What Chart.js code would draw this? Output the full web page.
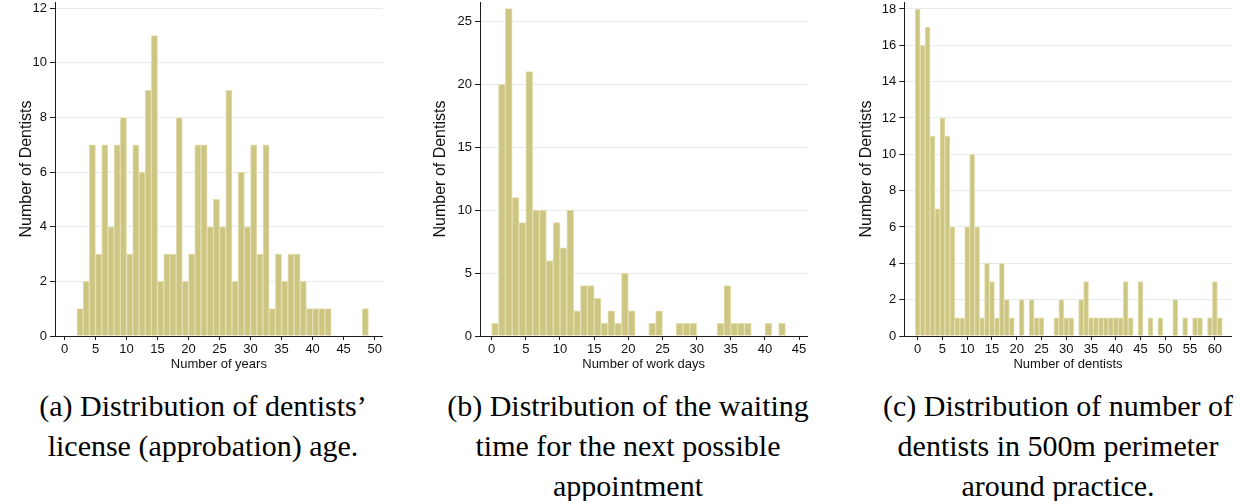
<!DOCTYPE html>
<html>
<head>
<meta charset="utf-8">
<script src="https://cdn.jsdelivr.net/npm/chart.js@4.4.1/dist/chart.umd.min.js"></script>
<style>
  body { margin: 0; background: #fff; width: 1241px; height: 501px; position: relative; overflow: hidden; }
  .box { position: absolute; top: 0; height: 372px; }
  .cap { position: absolute; top: 386px; width: 440px; font: 30px "Liberation Serif", serif; line-height: 40px;
         text-align: center; white-space: nowrap; color: #000; }
</style>
</head>
<body>
<div class="box" style="left:0px;width:390px"><canvas id="chartA"></canvas></div>
<div class="box" style="left:420px;width:395px"><canvas id="chartB"></canvas></div>
<div class="box" style="left:850px;width:391px"><canvas id="chartC"></canvas></div>

<div class="cap" style="left:-17px">(a) Distribution of dentists’<br>license (approbation) age.</div>
<div class="cap" style="left:408px">(b) Distribution of the waiting<br>time for the next possible<br>appointment</div>
<div class="cap" style="left:838px">(c) Distribution of number of<br>dentists in 500m perimeter<br>around practice.</div>

<script>
// (a) license age, bins of 1 year starting at 2
const yearsBinStart = 2;
const yearsCounts = [1, 2, 7, 3, 7, 4, 7, 8, 3, 7, 6, 9, 11, 2, 3, 3, 8, 2, 3, 7, 7, 4, 5, 4,
  9, 2, 6, 4, 7, 3, 7, 1, 3, 2, 3, 3, 2, 1, 1, 1, 1, 0, 0, 0, 0, 0, 1];

// (b) waiting time in work days, bins of 1 day starting at 0
const waitBinStart = 0;
const waitCounts = [1, 20, 26, 11, 9, 21, 10, 10, 6, 9, 7, 10, 2, 4, 4, 3, 1, 2, 1, 5, 2, 0,
  0, 1, 2, 0, 0, 1, 1, 1, 0, 0, 0, 1, 4, 1, 1, 1, 0, 0, 1, 0, 1];

// (c) dentists within 500m, one bar per integer value from 0
const nearbyBinStart = -0.5;
const nearbyCounts = [18, 16, 17, 11, 7, 12, 11, 6, 1, 1, 6, 10, 6, 1, 4, 3, 1, 4, 2, 1,
  0, 2, 0, 2, 1, 1, 0, 0, 1, 2, 1, 1, 0, 2, 3, 1, 1, 1, 1, 1, 1, 1, 3, 1, 0, 3, 0, 1, 0, 1,
  0, 0, 2, 0, 1, 0, 1, 1, 0, 1, 3, 1];

const yTitle = 'Number of Dentists';
const xTitles = ['Number of years', 'Number of work days', 'Number of dentists'];

const GRID = '#e4ecef';
const AXIS = '#1c1c1c';
const BAR = 'rgb(205,197,130)';
const BAR_EDGE = 'rgb(228,223,176)';
const TICK_FONT = { family: 'Liberation Sans, Arial, sans-serif', size: 13 };

function onStep(step) {
  return s => {
    s.ticks = s.ticks.filter(t => t.value >= 0 && Math.abs(t.value / step - Math.round(t.value / step)) < 1e-6);
  };
}

function drawHist(id, binStart, counts, p) {
  const points = counts.map((c, i) => ({ x: binStart + i + 0.5, y: c }));
  new Chart(document.getElementById(id), {
    type: 'bar',
    data: {
      datasets: [{
        data: points,
        backgroundColor: BAR,
        borderColor: BAR_EDGE,
        borderWidth: 1,
        barPercentage: 1,
        categoryPercentage: 1
      }]
    },
    options: {
      responsive: true,
      maintainAspectRatio: false,
      animation: false,
      layout: { padding: { top: 2, right: p.padRight, left: 0, bottom: 0 } },
      plugins: { legend: { display: false }, tooltip: { enabled: false } },
      scales: {
        x: {
          type: 'linear',
          offset: false,
          min: p.xMin,
          max: p.xMax,
          grid: { offset: false, drawOnChartArea: false, tickLength: 4, tickColor: AXIS },
          border: { color: AXIS, width: 1 },
          ticks: { stepSize: p.xStep, includeBounds: false, color: '#111', font: TICK_FONT, padding: 2,
                   maxRotation: 0, autoSkip: false },
          title: { display: true, text: p.xTitle, color: '#111', font: TICK_FONT, padding: 0 },
          afterBuildTicks: onStep(p.xStep),
          afterFit: s => { s.height = 36; s.paddingLeft = 0; s.paddingRight = 0; }
        },
        y: {
          min: 0,
          max: p.yMax,
          grid: { color: GRID, lineWidth: 1, tickLength: 5, tickColor: AXIS },
          border: { color: AXIS, width: 1 },
          ticks: { stepSize: p.yStep, includeBounds: false, color: '#111', font: TICK_FONT, padding: 3 },
          title: { display: true, text: yTitle, color: '#111',
                   font: { family: 'Liberation Sans, Arial, sans-serif', size: 16 },
                   padding: { top: p.titlePad, bottom: 0 } },
          afterBuildTicks: onStep(p.yStep),
          afterFit: s => { s.width = p.yW; s.paddingTop = 0; s.paddingBottom = 0; }
        }
      }
    }
  });
}

drawHist('chartA', yearsBinStart, yearsCounts, {
  xMin: -1.53, xMax: 51.3, xStep: 5, yMax: 12.23, yStep: 2,
  yW: 55, titlePad: 17, padRight: 7.3, xTitle: xTitles[0]
});
drawHist('chartB', waitBinStart, waitCounts, {
  xMin: -1.71, xMax: 46.2, xStep: 5, yMax: 26.53, yStep: 5,
  yW: 60, titlePad: 11.4, padRight: 7.7, xTitle: xTitles[1]
});
drawHist('chartC', nearbyBinStart, nearbyCounts, {
  xMin: -2.7, xMax: 63.4, xStep: 5, yMax: 18.385, yStep: 2,
  yW: 54.3, titlePad: 7.1, padRight: 9.3, xTitle: xTitles[2]
});
</script>
</body>
</html>
